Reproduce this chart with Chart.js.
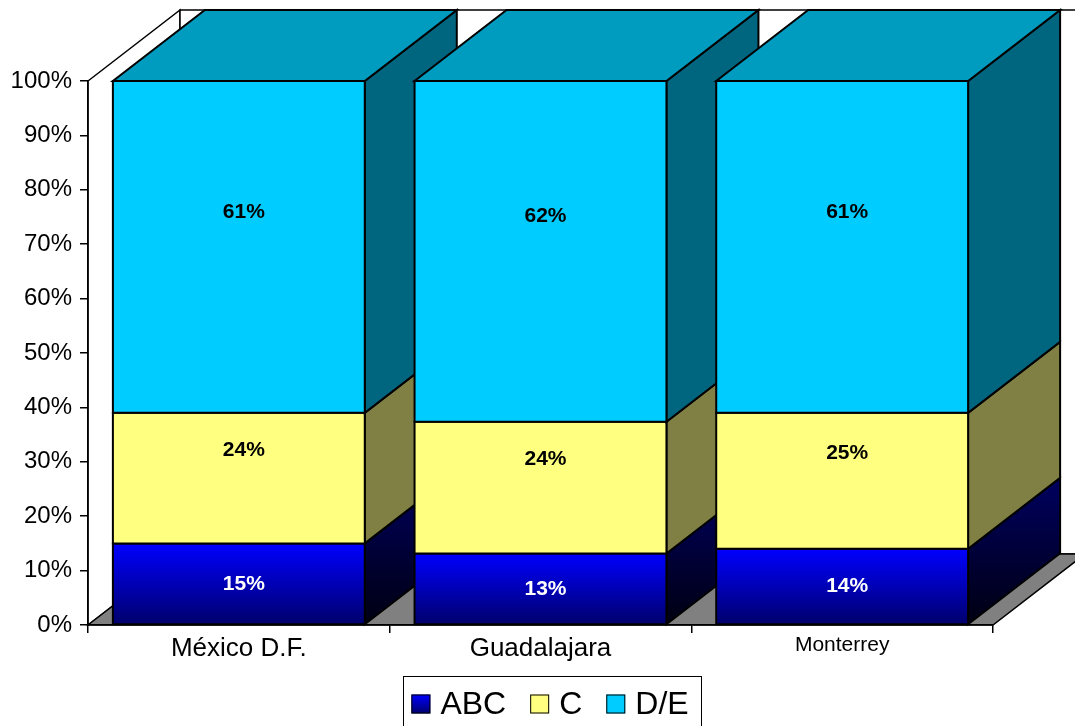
<!DOCTYPE html>
<html>
<head>
  <meta charset="utf-8">
  <title>Nivel socioeconómico por ciudad</title>
  <style>
    html, body { margin: 0; padding: 0; background: #fff; }
    #grafico { display: block; }
  </style>
</head>
<body>
  <canvas id="grafico" width="1075" height="726"></canvas>
  <script src="https://cdn.jsdelivr.net/npm/chart.js@4"></script>
  <script>
    // datos: porcentaje de cada nivel por ciudad
    const ciudades = ['México D.F.', 'Guadalajara', 'Monterrey'];
    const niveles = ['ABC', 'C', 'D/E'];
    const abc = [15, 13, 14];
    const c = [24, 24, 25];
    const de = [61, 62, 61];
    const ticksY = [0, 10, 20, 30, 40, 50, 60, 70, 80, 90, 100];

    const series = [abc, c, de];
    const fuente = 'Arial, "Liberation Sans", sans-serif';

    // barras al 100%: cada ciudad se reparte sobre su propio total
    const totales = ciudades.map((_, j) => series.reduce((s, v) => s + v[j], 0));
    const normal = series.map(v => v.map((x, j) => x * 100 / totales[j]));

    // colores de cara frontal, lateral y superior
    const colores = [
      { frente: ['#0000ff', '#00006c'], lado: ['#000060', '#000012'], arriba: '#000080', texto: '#fff' },
      { frente: ['#ffff80', '#ffff80'], lado: ['#808045', '#808045'], arriba: '#c0c060', texto: '#000' },
      { frente: ['#00ccff', '#00ccff'], lado: ['#00667f', '#00667f'], arriba: '#009cc0', texto: '#000' }
    ];
    const despl = [0, -28, -35];

    // profundidad del efecto 3D
    const prof = { x: 92, y: -71 };

    function poly(ctx, pts, fill) {
      ctx.beginPath();
      ctx.moveTo(pts[0][0], pts[0][1]);
      for (let k = 1; k < pts.length; k++) ctx.lineTo(pts[k][0], pts[k][1]);
      ctx.closePath();
      ctx.fillStyle = fill;
      ctx.fill();
      ctx.stroke();
    }

    function grad(ctx, y0, y1, cols) {
      let g = ctx.createLinearGradient(0, y0, 0, y1);
      g.addColorStop(0, cols[0]);
      g.addColorStop(1, cols[1]);
      return g;
    }

    const cubos = {
      id: 'cubos',
      beforeDraw(chart) {
        // paredes y piso
        const ctx = chart.ctx;
        const a = chart.chartArea;
        const L = a.left, R = a.right, T = a.top, B = a.bottom;
        ctx.save();
        ctx.strokeStyle = '#000';
        ctx.lineWidth = 1.5;
        ctx.lineJoin = 'miter';
        poly(ctx, [[L, T], [L + prof.x, T + prof.y], [L + prof.x, B + prof.y], [L, B]], '#fff');
        poly(ctx, [[L + prof.x, T + prof.y], [R + prof.x, T + prof.y], [R + prof.x, B + prof.y], [L + prof.x, B + prof.y]], '#fff');
        poly(ctx, [[L, B], [R, B], [R + prof.x, B + prof.y], [L + prof.x, B + prof.y]], '#808080');
        ctx.restore();
      },
      beforeDatasetsDraw(chart) {
        const ctx = chart.ctx;
        const metas = chart.data.datasets.map((d, i) => chart.getDatasetMeta(i));
        ctx.save();
        ctx.strokeStyle = '#000';
        ctx.lineWidth = 2;
        ctx.lineJoin = 'miter';
        for (let j = 0; j < ciudades.length; j++) {
          metas.forEach((meta, i) => {
            const el = meta.data[j];
            const p = el.getProps(['x', 'y', 'base', 'width'], true);
            const l = p.x - p.width / 2, r = p.x + p.width / 2;
            const col = colores[i];
            // cara lateral
            poly(ctx, [[r, p.y], [r + prof.x, p.y + prof.y], [r + prof.x, p.base + prof.y], [r, p.base]],
              grad(ctx, p.y + prof.y, p.base, col.lado));
            // tapa superior sólo en el último segmento
            if (i === metas.length - 1) {
              poly(ctx, [[l, p.y], [r, p.y], [r + prof.x, p.y + prof.y], [l + prof.x, p.y + prof.y]], col.arriba);
            }
            // cara frontal
            poly(ctx, [[l, p.y], [r, p.y], [r, p.base], [l, p.base]], grad(ctx, p.y, p.base, col.frente));
          });
        }
        ctx.restore();
        return false;
      },
      afterDraw(chart) {
        const ctx = chart.ctx;
        ctx.save();
        // etiquetas de valor
        ctx.font = 'bold 21px ' + fuente;
        ctx.textAlign = 'center';
        ctx.textBaseline = 'middle';
        chart.data.datasets.forEach((d, i) => {
          chart.getDatasetMeta(i).data.forEach((el, j) => {
            const p = el.getProps(['x', 'y', 'base'], true);
            ctx.fillStyle = colores[i].texto;
            ctx.fillText(series[i][j] + '%', p.x + 5, (p.y + p.base) / 2 + despl[i]);
          });
        });

        // leyenda con recuadro
        ctx.font = '32px ' + fuente;
        ctx.textAlign = 'left';
        const cuadro = 19, sep = 10, hueco = 24, cy = 704;
        const anchos = niveles.map(n => ctx.measureText(n).width);
        const total = anchos.reduce((s, w) => s + cuadro + sep + w, 0) + hueco * (niveles.length - 1);
        let x = 550 - total / 2;
        ctx.strokeStyle = '#000';
        ctx.lineWidth = 1;
        ctx.fillStyle = '#fff';
        ctx.fillRect(403.5, 676.5, 298, 60);
        ctx.strokeRect(403.5, 676.5, 298, 60);
        niveles.forEach((n, i) => {
          ctx.fillStyle = grad(ctx, cy - cuadro / 2, cy + cuadro / 2, colores[i].frente);
          ctx.fillRect(x, cy - cuadro / 2, cuadro, cuadro);
          ctx.strokeRect(x + 0.5, cy - cuadro / 2 + 0.5, cuadro - 1, cuadro - 1);
          ctx.fillStyle = '#000';
          ctx.fillText(n, x + cuadro + sep, cy + 1);
          x += cuadro + sep + anchos[i] + hueco;
        });
        ctx.restore();
      }
    };

    new Chart(document.getElementById('grafico'), {
      type: 'bar',
      data: {
        labels: ciudades,
        datasets: niveles.map((n, i) => ({
          label: n,
          data: normal[i],
          backgroundColor: colores[i].frente[0],
          barPercentage: 0.835,
          categoryPercentage: 1
        }))
      },
      options: {
        responsive: false,
        animation: false,
        layout: { padding: { top: 81, right: 82, left: 0, bottom: 0 } },
        plugins: {
          legend: { display: false },
          tooltip: { enabled: false }
        },
        scales: {
          x: {
            stacked: true,
            afterFit: s => { s.height = 101; },
            border: { color: '#000', width: 1.5 },
            grid: { drawOnChartArea: false, tickLength: 8, color: '#000', lineWidth: 1.5 },
            ticks: {
              color: '#000',
              padding: 0,
              font: ctx => ({ family: fuente, size: ctx.index === 2 ? 21 : 26 })
            }
          },
          y: {
            stacked: true,
            min: ticksY[0],
            max: ticksY[ticksY.length - 1],
            afterFit: s => { s.width = 88; },
            afterBuildTicks: s => { s.ticks = ticksY.map(v => ({ value: v })); },
            border: { color: '#000', width: 1.5 },
            grid: { drawOnChartArea: false, tickLength: 8, color: '#000', lineWidth: 1.5 },
            ticks: {
              color: '#000',
              padding: 8,
              font: { family: fuente, size: 24 },
              callback: v => v + '%'
            }
          }
        }
      },
      plugins: [cubos]
    });
  </script>
</body>
</html>
